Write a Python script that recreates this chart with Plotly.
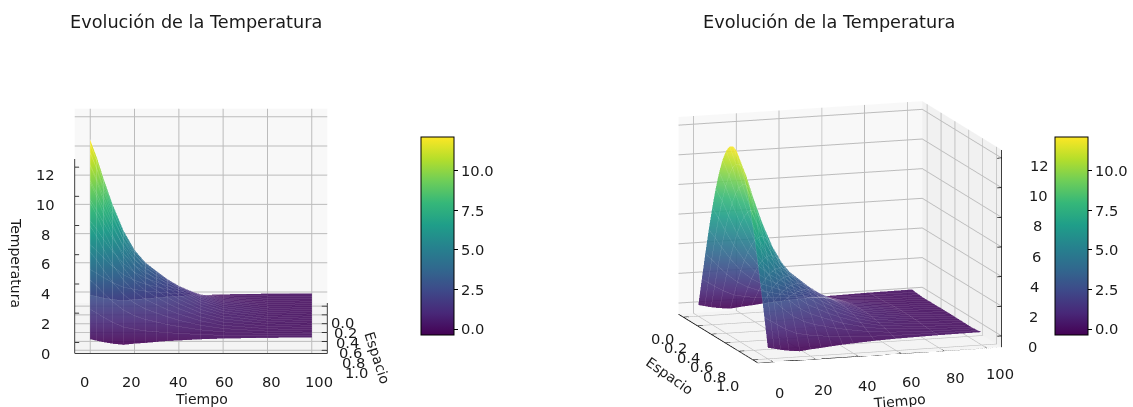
import math
import plotly.graph_objects as go

espacio = [0.0,0.05,0.1,0.15,0.2,0.25,0.3,0.35,0.4,0.45,0.5,0.55,0.6,0.65,0.7,0.75,0.8,0.85,0.9,0.95,1.0]
tiempo = [0,3,6,10,15,20,25,30,35,40,50,60,80,100]
temperatura = [
 [0.00,1.90,3.75,5.52,7.14,8.59,9.83,10.83,11.55,12.00,12.15,12.00,11.55,10.83,9.83,8.59,7.14,5.52,3.75,1.90,0.00],
 [-0.10,1.64,3.34,4.95,6.42,7.72,8.83,9.73,10.39,10.78,10.92,10.78,10.39,9.73,8.83,7.72,6.42,4.95,3.34,1.64,-0.10],
 [-0.20,1.36,2.86,4.28,5.57,6.70,7.66,8.45,9.01,9.36,9.48,9.36,9.01,8.45,7.66,6.70,5.57,4.28,2.86,1.36,-0.20],
 [-0.30,1.02,2.29,3.47,4.53,5.44,6.23,6.86,7.32,7.61,7.70,7.61,7.32,6.86,6.23,5.44,4.53,3.47,2.29,1.02,-0.30],
 [-0.38,0.69,1.70,2.62,3.45,4.14,4.73,5.22,5.57,5.79,5.86,5.79,5.57,5.22,4.73,4.14,3.45,2.62,1.70,0.69,-0.38],
 [-0.30,0.54,1.31,2.02,2.65,3.19,3.65,4.02,4.29,4.46,4.51,4.46,4.29,4.02,3.65,3.19,2.65,2.02,1.31,0.54,-0.30],
 [-0.25,0.42,1.05,1.62,2.12,2.56,2.92,3.22,3.43,3.56,3.61,3.56,3.43,3.22,2.92,2.56,2.12,1.62,1.05,0.42,-0.25],
 [-0.18,0.36,0.88,1.34,1.76,2.12,2.43,2.67,2.85,2.96,3.00,2.96,2.85,2.67,2.43,2.12,1.76,1.34,0.88,0.36,-0.18],
 [-0.12,0.30,0.70,1.08,1.41,1.70,1.94,2.14,2.28,2.37,2.40,2.37,2.28,2.14,1.94,1.70,1.41,1.08,0.70,0.30,-0.12],
 [-0.08,0.25,0.57,0.85,1.12,1.34,1.54,1.69,1.81,1.88,1.90,1.88,1.81,1.69,1.54,1.34,1.12,0.85,0.57,0.25,-0.08],
 [0.00,0.17,0.34,0.50,0.65,0.78,0.89,0.98,1.05,1.09,1.10,1.09,1.05,0.98,0.89,0.78,0.65,0.50,0.34,0.17,0.00],
 [0.05,0.12,0.20,0.28,0.35,0.42,0.49,0.53,0.57,0.59,0.60,0.59,0.57,0.53,0.49,0.42,0.35,0.28,0.20,0.12,0.05],
 [0.10,0.09,0.09,0.10,0.12,0.14,0.16,0.18,0.19,0.20,0.20,0.20,0.19,0.18,0.16,0.14,0.12,0.10,0.09,0.09,0.10],
 [0.12,0.08,0.06,0.03,0.03,0.04,0.04,0.04,0.05,0.05,0.05,0.05,0.05,0.04,0.04,0.04,0.03,0.03,0.06,0.08,0.12],
]
espacio_ticks = [0.0,0.2,0.4,0.6,0.8,1.0]
tiempo_ticks = [0,20,40,60,80,100]
temp_ticks = [0,2,4,6,8,10,12]
barra_ticks = [0.0,2.5,5.0,7.5,10.0]
titulo = "Evolución de la Temperatura"

W, H = 1133, 407
FONT = "DejaVu Sans"
TXT = "#1a1a1a"
XR, YR, ZR = [-0.07,1.07], [-7,107], [-0.75,12.55]

def axis(ticks, rng, bg):
    return dict(title=dict(text=""), tickvals=ticks, range=rng, autorange=False,
                showticklabels=False, showbackground=True, backgroundcolor=bg,
                gridcolor="#bcbcbc", gridwidth=2, showline=False, ticks="", zeroline=False, showspikes=False)

def surf(name, cx):
    return go.Surface(x=espacio, y=tiempo, z=temperatura, scene=name, colorscale="Viridis",
        cmin=-0.38, cmax=12.15, opacity=0.9,
        lighting=dict(ambient=1, diffuse=0, specular=0, roughness=1, fresnel=0),
        hoverinfo="skip",
        colorbar=dict(x=cx/W, xanchor="left", y=1-236/H, yanchor="middle", lenmode="pixels", len=198,
                      thicknessmode="pixels", thickness=33, xpad=0, ypad=0, outlinecolor="black", outlinewidth=1,
                      tickvals=barra_ticks, tickformat=".1f", ticks="outside", ticklen=4, tickcolor="black",
                      tickfont=dict(family=FONT, size=14.7, color=TXT)))

def mesh_lines(name):
    xs, ys, zs = [], [], []
    for j, e in enumerate(espacio):
        for i, t in enumerate(tiempo):
            xs.append(e); ys.append(t); zs.append(temperatura[i][j])
        xs.append(None); ys.append(None); zs.append(None)
    for i, t in enumerate(tiempo):
        for j, e in enumerate(espacio):
            xs.append(e); ys.append(t); zs.append(temperatura[i][j])
        xs.append(None); ys.append(None); zs.append(None)
    return go.Scatter3d(x=xs, y=ys, z=zs, scene=name, mode="lines", line=dict(color="white", width=1),
                        opacity=0.16, showlegend=False, hoverinfo="skip")

def spine(name, pts):
    xs, ys, zs = [], [], []
    for p in pts:
        if p is None:
            xs.append(None); ys.append(None); zs.append(None)
        else:
            xs.append(p[0]); ys.append(p[1]); zs.append(p[2])
    return go.Scatter3d(x=xs, y=ys, z=zs, scene=name, mode="lines", line=dict(color="black", width=1.5),
                        showlegend=False, hoverinfo="skip")

def spines_left():
    p = [(XR[1],YR[0],ZR[0]),(XR[1],YR[1],ZR[0]),(XR[0],YR[1],ZR[0]),None,
         (XR[1],YR[0],ZR[0]),(XR[1],YR[0],ZR[1]),None]
    for e in espacio_ticks:
        p += [(e,YR[1],ZR[0]),(e,YR[1]-2.5,ZR[0]),None]
    for t in tiempo_ticks:
        p += [(XR[1],t,ZR[0]),(XR[1]-0.025,t,ZR[0]),None]
    for z in temp_ticks:
        p += [(XR[1],YR[0],z),(XR[1],YR[0]+2,z),None]
    return p

def spines_right():
    p = [(XR[0],YR[0],ZR[0]),(XR[1],YR[0],ZR[0]),(XR[1],YR[1],ZR[0]),(XR[1],YR[1],ZR[1]),None]
    for e in espacio_ticks:
        p += [(e,YR[0],ZR[0]),(e,YR[0]+2.5,ZR[0]),None]
    for t in tiempo_ticks:
        p += [(XR[1],t,ZR[0]),(XR[1]-0.025,t,ZR[0]),None]
    for z in temp_ticks:
        p += [(XR[1],YR[1],z),(XR[1],YR[1]-2,z),None]
    return p

def lab(x, y, z, text, dx, dy, size=14.7, angle=0):
    return dict(x=x, y=y, z=z, text=text, showarrow=False, xshift=dx, yshift=-dy, textangle=angle,
                xanchor="center", yanchor="middle", font=dict(family=FONT, size=size, color=TXT))

def labels_left():
    a = [lab(XR[1], t, ZR[0], str(t), -6+13*t/100, 28) for t in tiempo_ticks]
    a += [lab(e, YR[1], ZR[0], f"{e:.1f}", 15+14*e, 16+6*e) for e in espacio_ticks]
    a += [lab(XR[1], YR[0], z, str(z), -29, 11-0.3*z) for z in temp_ticks]
    a += [lab(XR[1], 50, ZR[0], "Tiempo", 0, 46, size=14),
          lab(0.5, YR[1], ZR[0], "Espacio", 50, 30, size=14, angle=72),
          lab(XR[1], YR[0], 6, "Temperatura", -58, 8, size=14, angle=90)]
    return a

def labels_right():
    a = [lab(XR[1], t, ZR[0], str(t), 7+6*t/100, 31-5*t/100) for t in tiempo_ticks]
    a += [lab(e, YR[0], ZR[0], f"{e:.1f}", -21-4*e, 21+5*e) for e in espacio_ticks]
    a += [lab(XR[1], YR[1], z, str(z), 31+0.6*z, 11-0.3*z) for z in temp_ticks]
    a += [lab(XR[1], 50, ZR[0], "Tiempo", 20, 46, size=14, angle=-5),
          lab(0.5, YR[0], ZR[0], "Espacio", -48, 37, size=14, angle=35)]
    return a

def scene(dom, el, az, k, ann):
    r = 2.0
    ce, se, ca, sa = math.cos(math.radians(el)), math.sin(math.radians(el)), math.cos(math.radians(az)), math.sin(math.radians(az))
    return dict(domain=dict(x=[dom[0]/W, dom[1]/W], y=[1-dom[3]/H, 1-dom[2]/H]),
        xaxis=axis(espacio_ticks, XR, "#f8f8f8"),
        yaxis=axis(tiempo_ticks, YR, "#f1f1f1"),
        zaxis=axis(temp_ticks, ZR, "#f4f4f4"),
        aspectmode="manual", aspectratio=dict(x=k,y=k,z=0.785*k),
        camera=dict(eye=dict(x=r*ce*ca, y=r*ce*sa, z=r*se), up=dict(x=0,y=0,z=1), center=dict(x=0,y=0,z=0),
                    projection=dict(type="orthographic")),
        annotations=ann)

def tit(x):
    return dict(text=titulo, x=x/W, y=1-22/H, xref="paper", yref="paper", showarrow=False,
                xanchor="center", yanchor="middle", font=dict(family=FONT, size=17.7, color=TXT))

fig = go.Figure([surf("scene", 421), mesh_lines("scene"), spine("scene", spines_left()),
                 surf("scene2", 1055), mesh_lines("scene2"), spine("scene2", spines_right())])
fig.update_layout(width=W, height=H, margin=dict(l=0,r=0,t=0,b=0,autoexpand=False), paper_bgcolor="white",
    showlegend=False,
    scene=scene((21,381,58,404), 11.5, 0, 1.46, labels_left()),
    scene2=scene((640,1040,64,400), 11.5, -18, 1.46*346/336*1.015, labels_right()),
    annotations=[tit(195.5), tit(829)])
fig.write_html("out.html", post_script="document.body.style.margin='0';", config=dict(displayModeBar=False))
